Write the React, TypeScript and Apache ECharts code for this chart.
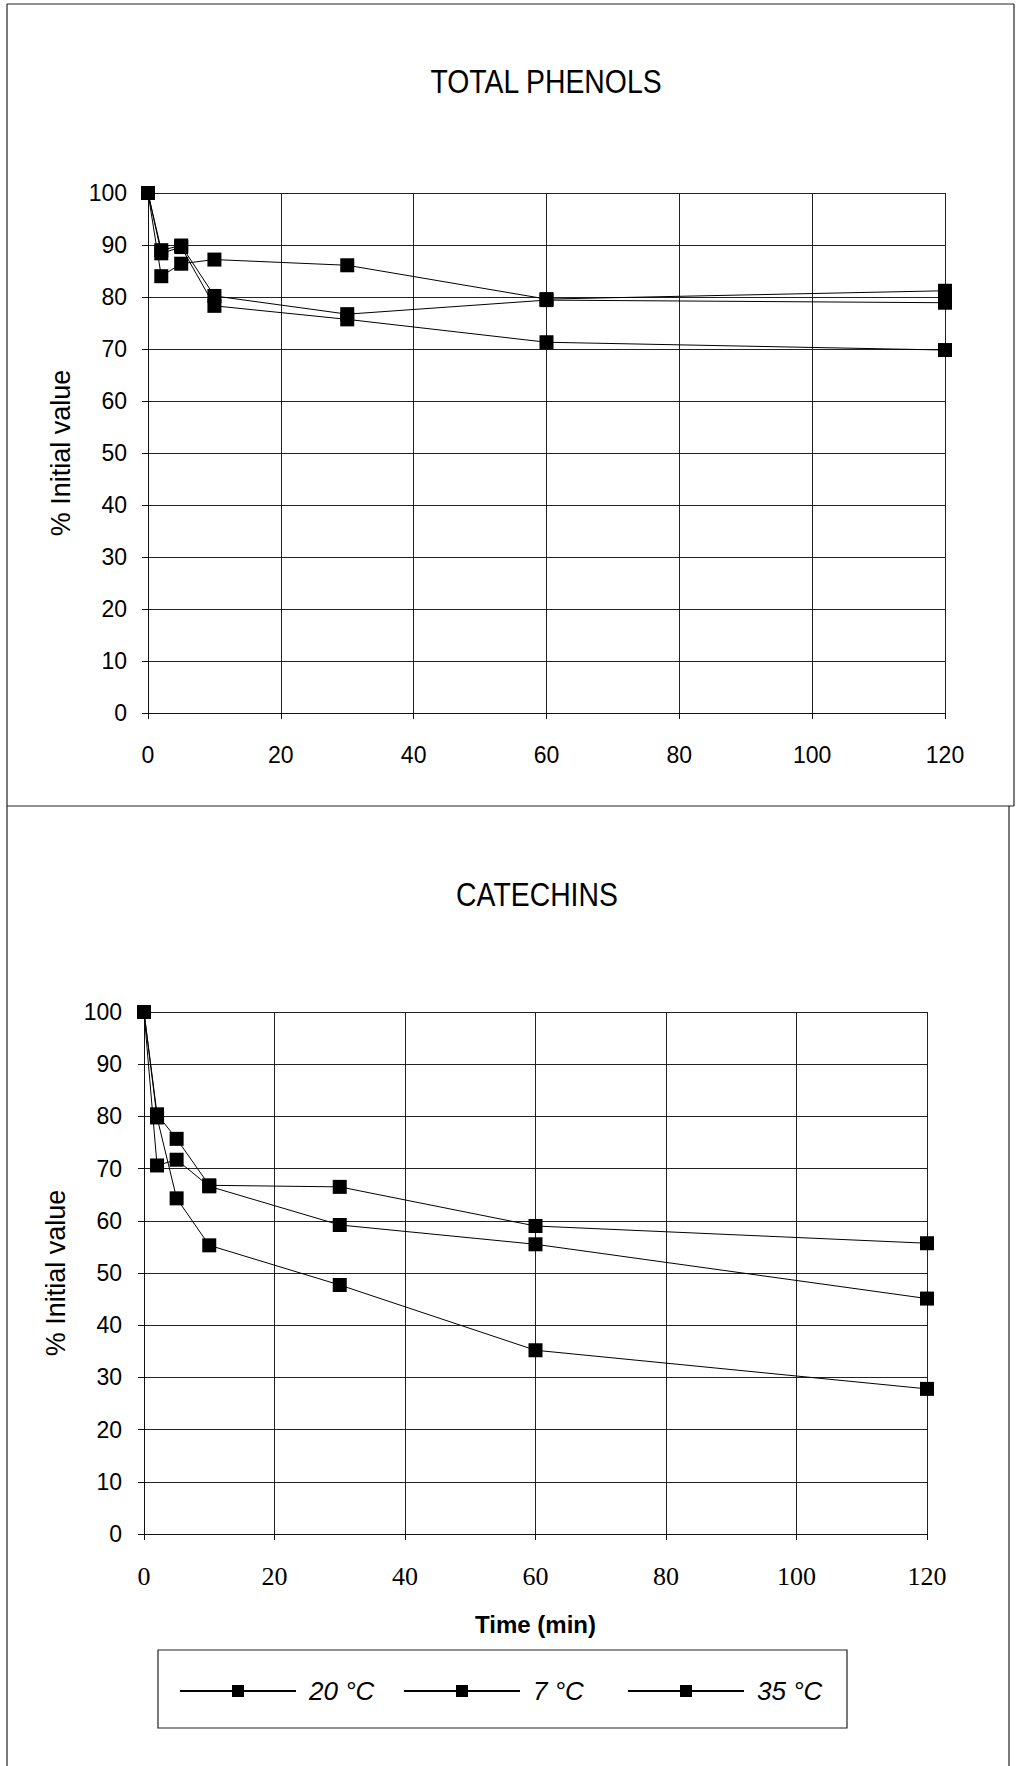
import React, { useEffect, useRef } from "react";
import * as echarts from "echarts";

// Sampling times (min)
const timeMin = [0, 2, 5, 10, 30, 60, 120];

// Storage temperatures, in legend order
const legendNames = ["20 °C", "7 °C", "35 °C"];

// TOTAL PHENOLS, % of initial value
const phenols20 = [100, 89.0, 89.9, 80.2, 76.7, 79.4, 78.9];
const phenols7 = [100, 84.0, 86.4, 87.2, 86.1, 79.6, 81.2];
const phenols35 = [100, 88.4, 89.6, 78.3, 75.7, 71.3, 69.8];

// CATECHINS, % of initial value
const catechins20 = [100, 70.6, 71.7, 66.6, 59.2, 55.5, 45.1];
const catechins7 = [100, 80.4, 75.7, 66.8, 66.5, 59.0, 55.7];
const catechins35 = [100, 79.8, 64.3, 55.3, 47.7, 35.2, 27.8];

const panelTitles = ["TOTAL PHENOLS", "CATECHINS"];
const yTitle = "% Initial value";
const xTitle = "Time (min)";

const SANS = "'Liberation Sans', Arial, sans-serif";
const SERIF = "'Liberation Serif', 'Times New Roman', serif";

function pairs(values: number[]) {
  return timeMin.map((t, i) => [t, values[i]]);
}

function xAxisFor(gridIndex: number, fontFamily: string, fontSize: number, margin: number) {
  return {
    gridIndex,
    type: "value",
    min: 0,
    max: 120,
    interval: 20,
    axisLine: { show: true, lineStyle: { color: "#111", width: 1 } },
    axisTick: { show: true, inside: false, length: 6, lineStyle: { color: "#111", width: 1 } },
    splitLine: { show: true, lineStyle: { color: "#222", width: 1 } },
    axisLabel: { color: "#000", fontFamily, fontSize, margin },
  };
}

function yAxisFor(gridIndex: number, margin: number) {
  return {
    gridIndex,
    type: "value",
    min: 0,
    max: 100,
    interval: 10,
    axisLine: { show: true, lineStyle: { color: "#111", width: 1 } },
    axisTick: { show: true, inside: false, length: 6, lineStyle: { color: "#111", width: 1 } },
    splitLine: { show: true, lineStyle: { color: "#222", width: 1 } },
    axisLabel: { color: "#000", fontFamily: SANS, fontSize: 23, margin },
  };
}

function lineSeries(name: string, values: number[], axisIndex: number) {
  return {
    name,
    type: "line",
    xAxisIndex: axisIndex,
    yAxisIndex: axisIndex,
    data: pairs(values),
    symbol: "rect",
    symbolSize: 14,
    itemStyle: { color: "#000" },
    lineStyle: { color: "#000", width: 1 },
  };
}

// One legend per temperature so that the entries sit in evenly spaced slots
function legendSlot(name: string, left: number) {
  return {
    show: true,
    data: [name],
    left,
    top: 1678,
    padding: 0,
    itemWidth: 116,
    itemHeight: 15,
    textStyle: {
      color: "#000",
      fontFamily: SANS,
      fontSize: 26,
      fontStyle: "italic",
      padding: [0, 0, 0, 8],
    },
  };
}

function frameLine(x1: number, y1: number, x2: number, y2: number) {
  return {
    type: "line",
    shape: { x1, y1, x2, y2 },
    style: { stroke: "#222", lineWidth: 1.2 },
    silent: true,
  };
}

function label(text: string, x: number, y: number, fontSize: number, extra: any = {}) {
  return {
    type: "text",
    x,
    y,
    rotation: extra.rotation || 0,
    scaleX: extra.scaleX || 1,
    silent: true,
    style: {
      text,
      fill: "#000",
      fontSize,
      fontFamily: SANS,
      fontWeight: extra.fontWeight || "normal",
      align: "center",
      verticalAlign: "middle",
      textAlign: "center",
      textVerticalAlign: "middle",
    },
  };
}

export default function App() {
  const ref = useRef<HTMLDivElement>(null);

  useEffect(() => {
    document.body.style.margin = "0";
    const chart = echarts.init(ref.current!, null, { renderer: "svg" });

    const option = {
      animation: false,
      backgroundColor: "#fff",
      grid: [
        { left: 148, top: 193, width: 797, height: 520 },
        { left: 144, top: 1012, width: 783, height: 522 },
      ],
      xAxis: [
        xAxisFor(0, SANS, 23, 30),
        {
          ...xAxisFor(1, SERIF, 26, 29),
          name: xTitle,
          nameLocation: "middle",
          nameGap: 78,
          nameTextStyle: { color: "#000", fontFamily: SANS, fontSize: 24, fontWeight: "bold" },
        },
      ],
      yAxis: [yAxisFor(0, 21), yAxisFor(1, 22)],
      legend: [
        legendSlot(legendNames[0], 179),
        legendSlot(legendNames[1], 403),
        legendSlot(legendNames[2], 627),
      ],
      series: [
        lineSeries(legendNames[0], phenols20, 0),
        lineSeries(legendNames[1], phenols7, 0),
        lineSeries(legendNames[2], phenols35, 0),
        lineSeries(legendNames[0], catechins20, 1),
        lineSeries(legendNames[1], catechins7, 1),
        lineSeries(legendNames[2], catechins35, 1),
      ],
      graphic: [
        // outer frames of the two panels
        frameLine(7, 4, 1014, 4),
        frameLine(7, 4, 7, 1766),
        frameLine(1014, 4, 1014, 806),
        frameLine(7, 806, 1014, 806),
        frameLine(1009, 806, 1009, 1766),
        // legend box
        {
          type: "rect",
          shape: { x: 158, y: 1650, width: 689, height: 78 },
          style: { fill: "none", stroke: "#222", lineWidth: 1.2 },
          silent: true,
        },
        label(panelTitles[0], 546, 82, 33, { scaleX: 0.86 }),
        label(panelTitles[1], 537, 895, 33, { scaleX: 0.86 }),
        label(yTitle, 61, 453, 27, { rotation: Math.PI / 2 }),
        label(yTitle, 56, 1273, 27, { rotation: Math.PI / 2 }),
      ],
    };

    chart.setOption(option as any);
    return () => chart.dispose();
  }, []);

  return <div ref={ref} style={{ width: 1017, height: 1766, background: "#fff" }} />;
}
